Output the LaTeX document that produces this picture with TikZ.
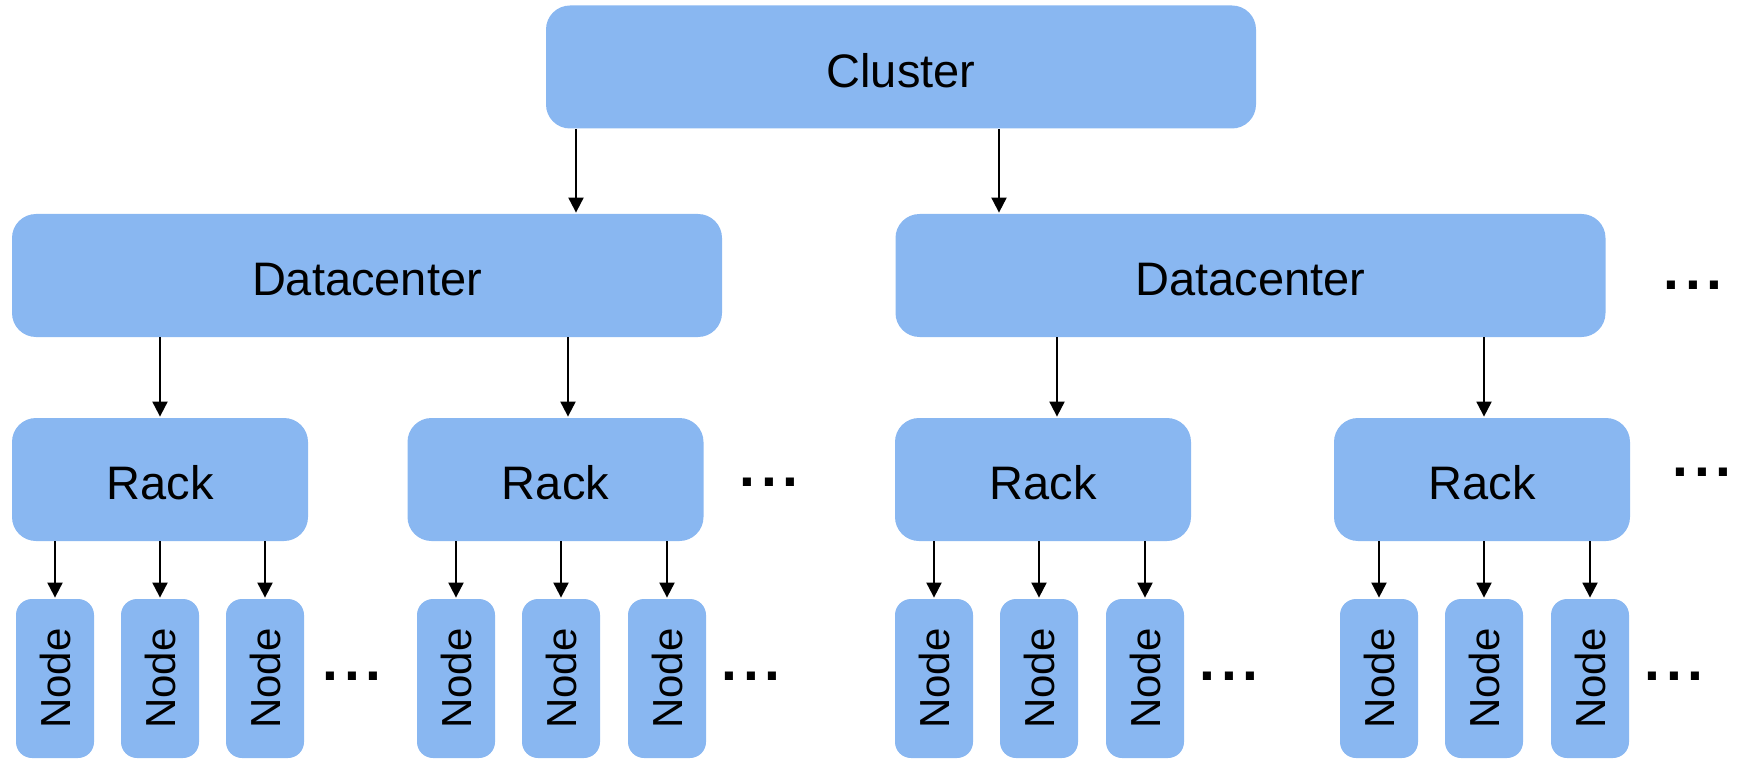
\documentclass[tikz,border=0pt]{standalone}
\usepackage{fontspec}
\usepackage{graphicx}
\setmainfont{Liberation Sans}
\usetikzlibrary{arrows.meta}
\definecolor{boxblue}{RGB}{137,183,241}
% lower a label slightly without changing its box size
\newcommand{\lowlabel}[1]{\raisebox{-1.8pt}[\height][\depth]{#1}}

\begin{document}
\begin{tikzpicture}[x=0.5pt,y=-0.5pt,
  box/.style={fill=boxblue, draw=none, inner sep=0pt, rounded corners=12pt,
    font=\fontsize{23.5}{28}\selectfont},
  widebox/.style={box, minimum width=355pt, minimum height=61.5pt},
  rackbox/.style={box, minimum width=148pt, minimum height=61.5pt},
  nodebox/.style={box, rounded corners=8pt, minimum width=39pt, minimum height=79.5pt,
    font=\fontsize{21}{25}\selectfont},
  more/.style={anchor=base, inner sep=0pt, font=\fontsize{28.5}{30}\selectfont\bfseries},
  arr/.style={line width=1pt, -{Triangle[width=7.5pt,length=7.5pt]}, shorten >=0.5pt}
]
\useasboundingbox (0,0) rectangle (1739,759);

% hierarchy levels
\node[widebox] (cl) at (901,67) {\lowlabel{Cluster}};

\node[widebox] (dc1) at (367,275.5) {\lowlabel{Datacenter}};
\node[widebox] (dc2) at (1250.5,275.5) {\lowlabel{Datacenter}};

\node[rackbox] (r1) at (160,479.5) {\lowlabel{Rack}};
\node[rackbox] (r2) at (555.5,479.5) {\lowlabel{Rack}};
\node[rackbox] (r3) at (1043,479.5) {\lowlabel{Rack}};
\node[rackbox] (r4) at (1482,479.5) {\lowlabel{Rack}};

\foreach \r/\xa/\xb/\xc in {1/55/160/265, 2/456/561/667, 3/934/1039/1145, 4/1379/1484/1590}{
  \node[nodebox] (n\r a) at (\xa,678.5) {\rotatebox{90}{Node}};
  \node[nodebox] (n\r b) at (\xb,678.5) {\rotatebox{90}{Node}};
  \node[nodebox] (n\r c) at (\xc,678.5) {\rotatebox{90}{Node}};
  \foreach \k in {a,b,c}{
    \draw[arr] (r\r.south -| n\r\k.north) -- (n\r\k.north);
  }
}

% connector columns
\coordinate (c1) at (576,0);
\coordinate (c2) at (999,0);
\coordinate (c3) at (160,0);
\coordinate (c4) at (568,0);
\coordinate (c5) at (1057,0);
\coordinate (c6) at (1484,0);

\draw[arr] (cl.south -| c1) -- (dc1.north -| c1);
\draw[arr] (cl.south -| c2) -- (dc2.north -| c2);
\draw[arr] (dc1.south -| c3) -- (r1.north -| c3);
\draw[arr] (dc1.south -| c4) -- (r2.north -| c4);
\draw[arr] (dc2.south -| c5) -- (r3.north -| c5);
\draw[arr] (dc2.south -| c6) -- (r4.north -| c6);

% ellipses
\newcommand{\moredots}{.\kern2.9pt.\kern2.9pt.}
\node[more] (m1) at (1693,289) {\moredots};
\node[more] (m2) at (769,486) {\moredots};
\node[more] (m3) at (1702,476) {\moredots};
\node[more] (m4) at (352,680) {\moredots};
\node[more] (m5) at (751,680) {\moredots};
\node[more] (m6) at (1229,680) {\moredots};
\node[more] (m7) at (1674,680) {\moredots};
\end{tikzpicture}
\end{document}
